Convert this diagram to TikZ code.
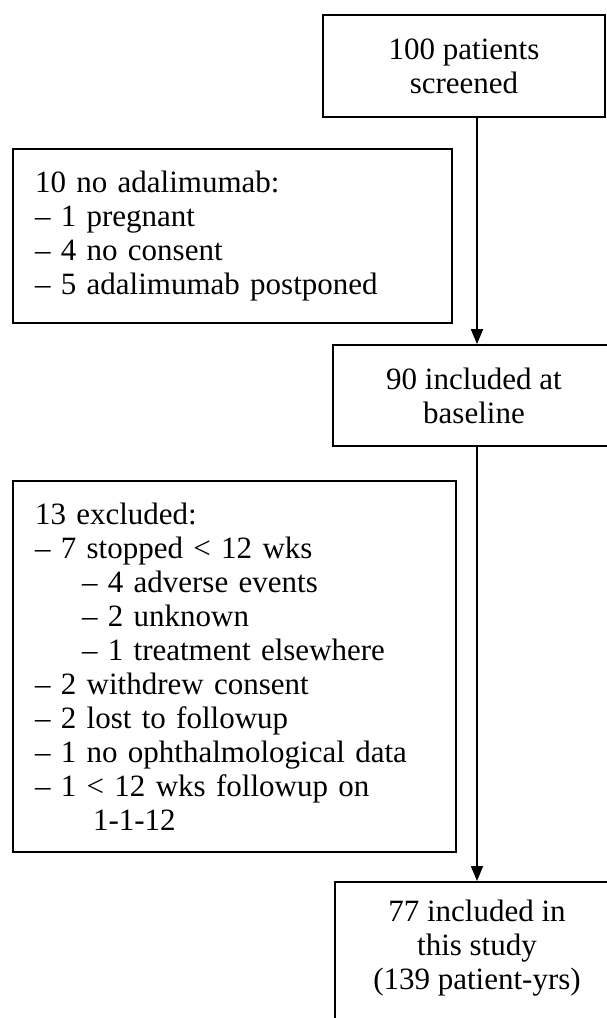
\documentclass[tikz,border=0pt]{standalone}
\usepackage{fontspec}
\setmainfont{Liberation Serif}
\usetikzlibrary{arrows.meta}
\begin{document}
\begin{tikzpicture}[x=1pt,y=-1pt,
  every node/.style={font=\fontsize{31}{34}\selectfont},
  mainbox/.style={draw, line width=1.8pt, inner sep=0pt, align=center},
  sidebox/.style={draw, line width=1.8pt, inner ysep=0pt, inner xsep=22pt, align=left},
  flow/.style={line width=1.8pt, -{Triangle[length=15pt,width=12pt]}}
]
\useasboundingbox (0,0) rectangle (607,1018);
\clip (0,0) rectangle (607,1018);
\fill[white] (0,0) rectangle (607,1018);

\node[mainbox, minimum width=282pt, minimum height=102pt] (b1) at (464,66)
  {100 patients\\screened};

\node[sidebox, text width=395pt, minimum height=174pt] (b2) at (232.5,236)
  {10 no adalimumab:\\
   – 1 pregnant\\
   – 4 no consent\\
   – 5 adalimumab postponed};

\node[mainbox, minimum width=282pt, minimum height=101pt] (b3) at (474,395.5)
  {90 included at\\baseline};

\node[sidebox, text width=399pt, minimum height=371pt] (b4) at (234.5,666.5)
  {13 excluded:\\
   – 7 stopped < 12 wks\\
   \hspace*{47pt}– 4 adverse events\\
   \hspace*{47pt}– 2 unknown\\
   \hspace*{47pt}– 1 treatment elsewhere\\
   – 2 withdrew consent\\
   – 2 lost to followup\\
   – 1 no ophthalmological data\\
   – 1 < 12 wks followup on\\
   \hspace*{58pt}1-1-12};

\node[mainbox, minimum width=284pt, minimum height=200pt, anchor=north] (b5) at (477,881) {};
\node[inner sep=0pt, align=center, anchor=north] (b5t) at (477,900)
  {77 included in\\this study\\(139 patient-yrs)};

\coordinate (axis) at (477,0);
\draw[flow] (b1.south -| axis) -- (b3.north -| axis);
\draw[flow] (b3.south -| axis) -- (b5.north -| axis);
\end{tikzpicture}
\end{document}
